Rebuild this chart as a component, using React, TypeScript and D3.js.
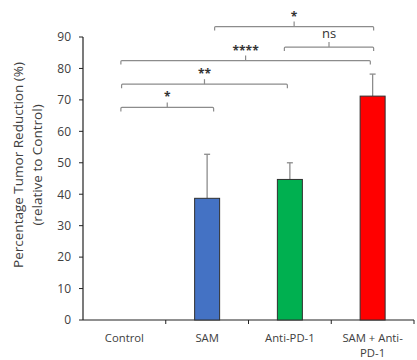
import React from "react";
import * as d3 from "d3";

const categories = ["Control", "SAM", "Anti-PD-1", "SAM + Anti-PD-1"];
const categoryLines = [["Control"], ["SAM"], ["Anti-PD-1"], ["SAM + Anti-", "PD-1"]];
const values = [0, 38.7, 44.7, 71.2];
const errors = [0, 14.0, 5.3, 7.0];
const colors = ["none", "#4472C4", "#00B050", "#FF0000"];
const yTicks = [0, 10, 20, 30, 40, 50, 60, 70, 80, 90];

const brackets = [
  { from: 0, to: 1, level: 67.6, label: "*" },
  { from: 0, to: 2, level: 75.0, label: "**" },
  { from: 0, to: 3, level: 82.5, label: "****" },
  { from: 2, to: 3, level: 86.8, label: "ns" },
  { from: 1, to: 3, level: 93.3, label: "*" },
];
const bracketX: Record<string, [number, number]> = {
  "0-1": [-3.5, 6.5],
  "0-2": [-2.8, -2.5],
  "0-3": [-3.5, -2.3],
  "2-3": [-5.5, 1],
  "1-3": [7.5, 1],
};

export default function App() {
  const W = 417, H = 360;
  const left = 83, right = 414, top = 37, bottom = 320;
  const x = d3.scaleBand().domain(categories).range([left, right]).paddingInner(0).paddingOuter(0);
  const y = d3.scaleLinear().domain([0, 90]).range([bottom, top]);
  const bw = 25;
  const font = "'Open Sans', 'Liberation Sans', sans-serif";
  const grey = "#8c8c8c";
  const textCol = "#404040";

  return (
    <svg width={W} height={H} style={{ position: "absolute", left: 0, top: 0 }} fontFamily={font}>
      <rect width={W} height={H} fill="#fff" />
      <line x1={left} x2={left} y1={top} y2={bottom} stroke="#222" strokeWidth={1.2} />
      {yTicks.map((t) => (
        <g key={t}>
          <line x1={left - 4} x2={left} y1={y(t)} y2={y(t)} stroke="#222" strokeWidth={1} />
          <text x={71} y={y(t)} dy="0.36em" textAnchor="end" fontSize={12} fill={textCol}>
            {t}
          </text>
        </g>
      ))}
      <line x1={left} x2={right} y1={bottom} y2={bottom} stroke="#222" strokeWidth={1.2} />
      {categories.map((c) => (
        <line key={c} x1={(x(c) as number) + x.bandwidth()} x2={(x(c) as number) + x.bandwidth()} y1={bottom} y2={bottom + 4} stroke="#222" strokeWidth={1} />
      ))}
      {categories.map((c, i) =>
        categoryLines[i].map((l, j) => (
          <text
            key={c + j}
            x={(x(c) as number) + x.bandwidth() / 2}
            y={j === 0 ? 341.5 : 356.5}
            textAnchor="middle"
            fontSize={11.3}
            fill={textCol}
          >
            {l}
          </text>
        ))
      )}
      {categories.map((c, i) =>
        values[i] > 0 ? (
          <g key={c}>
            <line
              x1={(x(c) as number) + x.bandwidth() / 2}
              x2={(x(c) as number) + x.bandwidth() / 2}
              y1={y(values[i])}
              y2={y(values[i] + errors[i])}
              stroke={grey}
              strokeWidth={1.3}
            />
            <line
              x1={(x(c) as number) + x.bandwidth() / 2 - 3}
              x2={(x(c) as number) + x.bandwidth() / 2 + 3}
              y1={y(values[i] + errors[i])}
              y2={y(values[i] + errors[i])}
              stroke={grey}
              strokeWidth={1.3}
            />
            <rect
              x={(x(c) as number) + x.bandwidth() / 2 - bw / 2}
              y={y(values[i])}
              width={bw}
              height={bottom - y(values[i])}
              fill={colors[i]}
              stroke="#2f2f2f"
              strokeWidth={1}
            />
          </g>
        ) : null
      )}
      {brackets.map((b, k) => {
        const off = bracketX[`${b.from}-${b.to}`];
        const x1 = (x(categories[b.from]) as number) + x.bandwidth() / 2 + off[0];
        const x2 = (x(categories[b.to]) as number) + x.bandwidth() / 2 + off[1];
        const yy = y(b.level);
        const cx = (x1 + x2) / 2;
        const isNs = b.label === "ns";
        return (
          <g key={k}>
            <path
              d={`M${x1},${yy + 4} L${x1},${yy + 1} Q${x1},${yy} ${x1 + 1},${yy} L${x2 - 1},${yy} Q${x2},${yy} ${x2},${yy + 1} L${x2},${yy + 4}`}
              fill="none"
              stroke={grey}
              strokeWidth={1.2}
            />
            <line x1={cx} x2={cx} y1={yy} y2={yy - 5} stroke={grey} strokeWidth={1.2} />
            <text
              x={cx}
              y={isNs ? yy - 9 : yy - 6}
              textAnchor="middle"
              fontSize={isNs ? 13 : 12}
              fontWeight={isNs ? 400 : 700}
              fill="#333"
            >
              {b.label}
            </text>
          </g>
        );
      })}
      <text transform={`translate(22.5,165) rotate(-90)`} textAnchor="middle" fontSize={13.5} fill={textCol}>
        Percentage Tumor Reduction (%)
      </text>
      <text transform={`translate(41.5,165) rotate(-90)`} textAnchor="middle" fontSize={13.5} fill={textCol}>
        (relative to Control)
      </text>
    </svg>
  );
}
